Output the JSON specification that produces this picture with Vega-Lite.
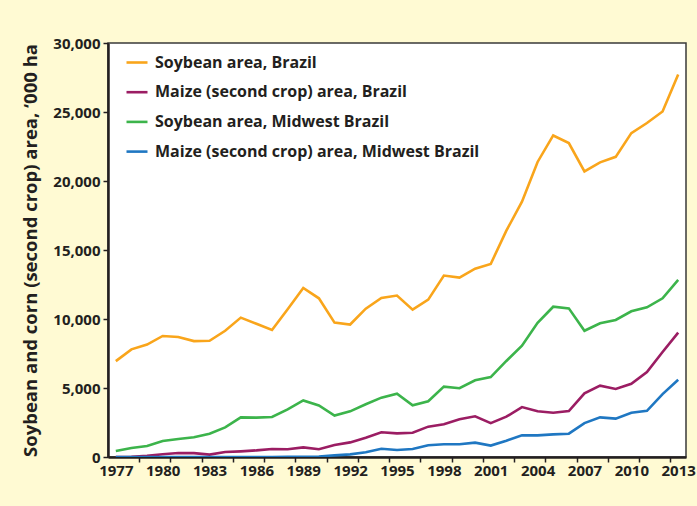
{
  "$schema": "https://vega.github.io/schema/vega-lite/v6.json",
  "width": 578,
  "height": 414,
  "autosize": {"type": "none"},
  "padding": {"left": 108, "top": 43, "right": 11, "bottom": 49},
  "background": "#fffad3",
  "config": {
    "font": "Open Sans",
    "view": {"fill": "white", "stroke": "#3a3a3a", "strokeWidth": 1.5},
    "axis": {
      "labelFont": "Open Sans", "labelFontWeight": "bold", "labelColor": "#231f20", "labelFontSize": 15,
      "titleFont": "Open Sans", "titleFontWeight": "bold", "titleColor": "#231f20", "titleFontSize": 18.5,
      "domainColor": "#231f20", "domainWidth": 2.5, "tickColor": "#231f20", "tickWidth": 1.5, "tickSize": 5,
      "grid": false
    },
    "legend": {
      "labelFont": "Open Sans", "labelFontWeight": "bold", "labelColor": "#231f20", "labelFontSize": 16
    }
  },
  "data": {
    "values": [
      {"series": "Soybean area, Brazil", "year": 1977, "value": 6950},
      {"series": "Soybean area, Brazil", "year": 1978, "value": 7800},
      {"series": "Soybean area, Brazil", "year": 1979, "value": 8150},
      {"series": "Soybean area, Brazil", "year": 1980, "value": 8770},
      {"series": "Soybean area, Brazil", "year": 1981, "value": 8700},
      {"series": "Soybean area, Brazil", "year": 1982, "value": 8400},
      {"series": "Soybean area, Brazil", "year": 1983, "value": 8420},
      {"series": "Soybean area, Brazil", "year": 1984, "value": 9150},
      {"series": "Soybean area, Brazil", "year": 1985, "value": 10100},
      {"series": "Soybean area, Brazil", "year": 1986, "value": 9650},
      {"series": "Soybean area, Brazil", "year": 1987, "value": 9200},
      {"series": "Soybean area, Brazil", "year": 1988, "value": 10700},
      {"series": "Soybean area, Brazil", "year": 1989, "value": 12250},
      {"series": "Soybean area, Brazil", "year": 1990, "value": 11500},
      {"series": "Soybean area, Brazil", "year": 1991, "value": 9740},
      {"series": "Soybean area, Brazil", "year": 1992, "value": 9600},
      {"series": "Soybean area, Brazil", "year": 1993, "value": 10750},
      {"series": "Soybean area, Brazil", "year": 1994, "value": 11520},
      {"series": "Soybean area, Brazil", "year": 1995, "value": 11700},
      {"series": "Soybean area, Brazil", "year": 1996, "value": 10680},
      {"series": "Soybean area, Brazil", "year": 1997, "value": 11400},
      {"series": "Soybean area, Brazil", "year": 1998, "value": 13150},
      {"series": "Soybean area, Brazil", "year": 1999, "value": 13000},
      {"series": "Soybean area, Brazil", "year": 2000, "value": 13650},
      {"series": "Soybean area, Brazil", "year": 2001, "value": 13990},
      {"series": "Soybean area, Brazil", "year": 2002, "value": 16400},
      {"series": "Soybean area, Brazil", "year": 2003, "value": 18500},
      {"series": "Soybean area, Brazil", "year": 2004, "value": 21380},
      {"series": "Soybean area, Brazil", "year": 2005, "value": 23300},
      {"series": "Soybean area, Brazil", "year": 2006, "value": 22750},
      {"series": "Soybean area, Brazil", "year": 2007, "value": 20700},
      {"series": "Soybean area, Brazil", "year": 2008, "value": 21350},
      {"series": "Soybean area, Brazil", "year": 2009, "value": 21750},
      {"series": "Soybean area, Brazil", "year": 2010, "value": 23470},
      {"series": "Soybean area, Brazil", "year": 2011, "value": 24200},
      {"series": "Soybean area, Brazil", "year": 2012, "value": 25040},
      {"series": "Soybean area, Brazil", "year": 2013, "value": 27720},
      {"series": "Maize (second crop) area, Brazil", "year": 1977, "value": 0},
      {"series": "Maize (second crop) area, Brazil", "year": 1978, "value": 10},
      {"series": "Maize (second crop) area, Brazil", "year": 1979, "value": 80},
      {"series": "Maize (second crop) area, Brazil", "year": 1980, "value": 200},
      {"series": "Maize (second crop) area, Brazil", "year": 1981, "value": 290},
      {"series": "Maize (second crop) area, Brazil", "year": 1982, "value": 280},
      {"series": "Maize (second crop) area, Brazil", "year": 1983, "value": 170},
      {"series": "Maize (second crop) area, Brazil", "year": 1984, "value": 360},
      {"series": "Maize (second crop) area, Brazil", "year": 1985, "value": 410},
      {"series": "Maize (second crop) area, Brazil", "year": 1986, "value": 480},
      {"series": "Maize (second crop) area, Brazil", "year": 1987, "value": 580},
      {"series": "Maize (second crop) area, Brazil", "year": 1988, "value": 560},
      {"series": "Maize (second crop) area, Brazil", "year": 1989, "value": 700},
      {"series": "Maize (second crop) area, Brazil", "year": 1990, "value": 560},
      {"series": "Maize (second crop) area, Brazil", "year": 1991, "value": 870},
      {"series": "Maize (second crop) area, Brazil", "year": 1992, "value": 1060},
      {"series": "Maize (second crop) area, Brazil", "year": 1993, "value": 1400},
      {"series": "Maize (second crop) area, Brazil", "year": 1994, "value": 1790},
      {"series": "Maize (second crop) area, Brazil", "year": 1995, "value": 1710},
      {"series": "Maize (second crop) area, Brazil", "year": 1996, "value": 1760},
      {"series": "Maize (second crop) area, Brazil", "year": 1997, "value": 2200},
      {"series": "Maize (second crop) area, Brazil", "year": 1998, "value": 2370},
      {"series": "Maize (second crop) area, Brazil", "year": 1999, "value": 2730},
      {"series": "Maize (second crop) area, Brazil", "year": 2000, "value": 2950},
      {"series": "Maize (second crop) area, Brazil", "year": 2001, "value": 2450},
      {"series": "Maize (second crop) area, Brazil", "year": 2002, "value": 2920},
      {"series": "Maize (second crop) area, Brazil", "year": 2003, "value": 3620},
      {"series": "Maize (second crop) area, Brazil", "year": 2004, "value": 3310},
      {"series": "Maize (second crop) area, Brazil", "year": 2005, "value": 3210},
      {"series": "Maize (second crop) area, Brazil", "year": 2006, "value": 3330},
      {"series": "Maize (second crop) area, Brazil", "year": 2007, "value": 4610},
      {"series": "Maize (second crop) area, Brazil", "year": 2008, "value": 5170},
      {"series": "Maize (second crop) area, Brazil", "year": 2009, "value": 4930},
      {"series": "Maize (second crop) area, Brazil", "year": 2010, "value": 5310},
      {"series": "Maize (second crop) area, Brazil", "year": 2011, "value": 6160},
      {"series": "Maize (second crop) area, Brazil", "year": 2012, "value": 7610},
      {"series": "Maize (second crop) area, Brazil", "year": 2013, "value": 9010},
      {"series": "Soybean area, Midwest Brazil", "year": 1977, "value": 430},
      {"series": "Soybean area, Midwest Brazil", "year": 1978, "value": 650},
      {"series": "Soybean area, Midwest Brazil", "year": 1979, "value": 800},
      {"series": "Soybean area, Midwest Brazil", "year": 1980, "value": 1160},
      {"series": "Soybean area, Midwest Brazil", "year": 1981, "value": 1300},
      {"series": "Soybean area, Midwest Brazil", "year": 1982, "value": 1430},
      {"series": "Soybean area, Midwest Brazil", "year": 1983, "value": 1690},
      {"series": "Soybean area, Midwest Brazil", "year": 1984, "value": 2150},
      {"series": "Soybean area, Midwest Brazil", "year": 1985, "value": 2870},
      {"series": "Soybean area, Midwest Brazil", "year": 1986, "value": 2850},
      {"series": "Soybean area, Midwest Brazil", "year": 1987, "value": 2900},
      {"series": "Soybean area, Midwest Brazil", "year": 1988, "value": 3450},
      {"series": "Soybean area, Midwest Brazil", "year": 1989, "value": 4100},
      {"series": "Soybean area, Midwest Brazil", "year": 1990, "value": 3740},
      {"series": "Soybean area, Midwest Brazil", "year": 1991, "value": 3000},
      {"series": "Soybean area, Midwest Brazil", "year": 1992, "value": 3310},
      {"series": "Soybean area, Midwest Brazil", "year": 1993, "value": 3820},
      {"series": "Soybean area, Midwest Brazil", "year": 1994, "value": 4300},
      {"series": "Soybean area, Midwest Brazil", "year": 1995, "value": 4590},
      {"series": "Soybean area, Midwest Brazil", "year": 1996, "value": 3750},
      {"series": "Soybean area, Midwest Brazil", "year": 1997, "value": 4040},
      {"series": "Soybean area, Midwest Brazil", "year": 1998, "value": 5100},
      {"series": "Soybean area, Midwest Brazil", "year": 1999, "value": 4980},
      {"series": "Soybean area, Midwest Brazil", "year": 2000, "value": 5560},
      {"series": "Soybean area, Midwest Brazil", "year": 2001, "value": 5790},
      {"series": "Soybean area, Midwest Brazil", "year": 2002, "value": 6960},
      {"series": "Soybean area, Midwest Brazil", "year": 2003, "value": 8070},
      {"series": "Soybean area, Midwest Brazil", "year": 2004, "value": 9730},
      {"series": "Soybean area, Midwest Brazil", "year": 2005, "value": 10890},
      {"series": "Soybean area, Midwest Brazil", "year": 2006, "value": 10770},
      {"series": "Soybean area, Midwest Brazil", "year": 2007, "value": 9150},
      {"series": "Soybean area, Midwest Brazil", "year": 2008, "value": 9690},
      {"series": "Soybean area, Midwest Brazil", "year": 2009, "value": 9930},
      {"series": "Soybean area, Midwest Brazil", "year": 2010, "value": 10560},
      {"series": "Soybean area, Midwest Brazil", "year": 2011, "value": 10850},
      {"series": "Soybean area, Midwest Brazil", "year": 2012, "value": 11500},
      {"series": "Soybean area, Midwest Brazil", "year": 2013, "value": 12830},
      {"series": "Maize (second crop) area, Midwest Brazil", "year": 1977, "value": 0},
      {"series": "Maize (second crop) area, Midwest Brazil", "year": 1978, "value": 0},
      {"series": "Maize (second crop) area, Midwest Brazil", "year": 1979, "value": 0},
      {"series": "Maize (second crop) area, Midwest Brazil", "year": 1980, "value": 0},
      {"series": "Maize (second crop) area, Midwest Brazil", "year": 1981, "value": 0},
      {"series": "Maize (second crop) area, Midwest Brazil", "year": 1982, "value": 0},
      {"series": "Maize (second crop) area, Midwest Brazil", "year": 1983, "value": 0},
      {"series": "Maize (second crop) area, Midwest Brazil", "year": 1984, "value": 0},
      {"series": "Maize (second crop) area, Midwest Brazil", "year": 1985, "value": 0},
      {"series": "Maize (second crop) area, Midwest Brazil", "year": 1986, "value": 0},
      {"series": "Maize (second crop) area, Midwest Brazil", "year": 1987, "value": 0},
      {"series": "Maize (second crop) area, Midwest Brazil", "year": 1988, "value": 10},
      {"series": "Maize (second crop) area, Midwest Brazil", "year": 1989, "value": 20},
      {"series": "Maize (second crop) area, Midwest Brazil", "year": 1990, "value": 40},
      {"series": "Maize (second crop) area, Midwest Brazil", "year": 1991, "value": 120},
      {"series": "Maize (second crop) area, Midwest Brazil", "year": 1992, "value": 190},
      {"series": "Maize (second crop) area, Midwest Brazil", "year": 1993, "value": 340},
      {"series": "Maize (second crop) area, Midwest Brazil", "year": 1994, "value": 600},
      {"series": "Maize (second crop) area, Midwest Brazil", "year": 1995, "value": 510},
      {"series": "Maize (second crop) area, Midwest Brazil", "year": 1996, "value": 580},
      {"series": "Maize (second crop) area, Midwest Brazil", "year": 1997, "value": 850},
      {"series": "Maize (second crop) area, Midwest Brazil", "year": 1998, "value": 920},
      {"series": "Maize (second crop) area, Midwest Brazil", "year": 1999, "value": 920},
      {"series": "Maize (second crop) area, Midwest Brazil", "year": 2000, "value": 1040},
      {"series": "Maize (second crop) area, Midwest Brazil", "year": 2001, "value": 830},
      {"series": "Maize (second crop) area, Midwest Brazil", "year": 2002, "value": 1180},
      {"series": "Maize (second crop) area, Midwest Brazil", "year": 2003, "value": 1570},
      {"series": "Maize (second crop) area, Midwest Brazil", "year": 2004, "value": 1570},
      {"series": "Maize (second crop) area, Midwest Brazil", "year": 2005, "value": 1640},
      {"series": "Maize (second crop) area, Midwest Brazil", "year": 2006, "value": 1690},
      {"series": "Maize (second crop) area, Midwest Brazil", "year": 2007, "value": 2460},
      {"series": "Maize (second crop) area, Midwest Brazil", "year": 2008, "value": 2870},
      {"series": "Maize (second crop) area, Midwest Brazil", "year": 2009, "value": 2780},
      {"series": "Maize (second crop) area, Midwest Brazil", "year": 2010, "value": 3210},
      {"series": "Maize (second crop) area, Midwest Brazil", "year": 2011, "value": 3350},
      {"series": "Maize (second crop) area, Midwest Brazil", "year": 2012, "value": 4560},
      {"series": "Maize (second crop) area, Midwest Brazil", "year": 2013, "value": 5600}
    ]
  },
  "mark": {"type": "line", "strokeWidth": 2.6, "clip": true},
  "encoding": {
    "x": {
      "field": "year", "type": "quantitative",
      "scale": {"domain": [1976.5, 2013.5], "nice": false, "zero": false},
      "axis": {
        "title": null,
        "values": [1977, 1978.5, 1980, 1980.5, 1982.5, 1983, 1984.5, 1986, 1986.5, 1988.5, 1989, 1990.5, 1992, 1992.5, 1994.5, 1995, 1996.5, 1998, 1998.5, 2000.5, 2001, 2002.5, 2004, 2004.5, 2006.5, 2007, 2008.5, 2010, 2010.5, 2012.5, 2013],
        "format": "d",
        "labelExpr": "datum.value % 1 === 0 ? datum.label : ''",
        "tickOpacity": {"condition": {"test": "datum.value % 1 === 0", "value": 0}, "value": 1},
        "labelOverlap": false,
        "labelPadding": 1,
        "labelFlush": false
      }
    },
    "y": {
      "field": "value", "type": "quantitative",
      "scale": {"domain": [0, 30000], "nice": false},
      "axis": {
        "title": "Soybean and corn (second crop) area, ‘000 ha",
        "values": [0, 5000, 10000, 15000, 20000, 25000, 30000],
        "format": ",d",
        "labelPadding": 3,
        "titlePadding": 12
      }
    },
    "color": {
      "field": "series", "type": "nominal",
      "scale": {
        "domain": ["Soybean area, Brazil", "Maize (second crop) area, Brazil", "Soybean area, Midwest Brazil", "Maize (second crop) area, Midwest Brazil"],
        "range": ["#f9a51b", "#9b1d63", "#3cb44b", "#1f77c2"]
      },
      "legend": {
        "title": null,
        "orient": "none",
        "legendX": 17,
        "legendY": 7.5,
        "padding": 0,
        "symbolType": "stroke",
        "symbolSize": 441,
        "symbolStrokeWidth": 2.6,
        "labelOffset": 6,
        "rowPadding": 9.7,
        "labelLimit": 500
      }
    }
  }
}
